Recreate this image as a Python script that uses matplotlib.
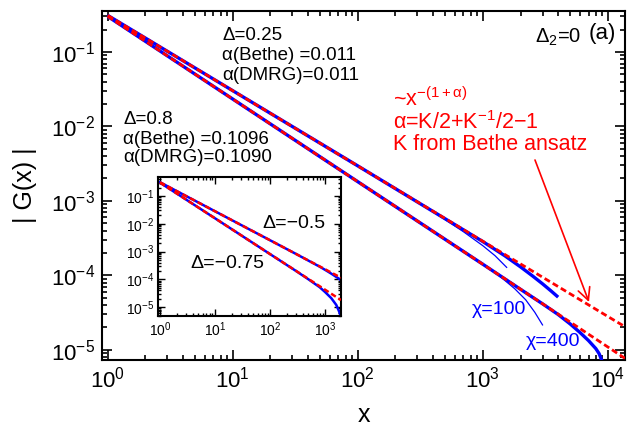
import matplotlib
matplotlib.use("Agg")
import matplotlib.pyplot as plt
from matplotlib.ticker import LogLocator, NullFormatter

plt.rcParams['font.family'] = ['Liberation Sans', 'DejaVu Sans']
plt.rcParams['mathtext.fontset'] = 'custom'
plt.rcParams['mathtext.rm'] = 'Liberation Sans'
plt.rcParams['mathtext.it'] = 'Liberation Sans:italic'
plt.rcParams['mathtext.sf'] = 'Liberation Sans'

# ---------------- data (main panel) ----------------
# Bethe-ansatz power laws (red dashed)
bethe_x = [1, 10, 100, 1000, 10000, 14000]
bethe_y_d025 = [0.31, 0.0302, 2.95e-3, 2.87e-4, 2.80e-5, 2.0e-5]
bethe_y_d080 = [0.30, 0.0233, 1.81e-3, 1.41e-4, 1.09e-5, 7.5e-6]

# DMRG chi=400 (thick blue)
dmrg400_x_d025 = [1, 10, 100, 1000, 1500, 2000, 2500, 3000, 3500, 4000]
dmrg400_y_d025 = [0.31, 0.0302, 2.95e-3, 2.84e-4, 1.83e-4, 1.30e-4, 9.8e-5, 7.7e-5, 6.2e-5, 5.1e-5]
dmrg400_x_d080 = [1, 10, 100, 1000, 2000, 3000, 4000, 5000, 6000, 7000, 8000, 8500, 9000]
dmrg400_y_d080 = [0.30, 0.0233, 1.81e-3, 1.41e-4, 6.5e-5, 4.15e-5, 2.98e-5, 2.22e-5,
                  1.70e-5, 1.33e-5, 1.04e-5, 8.9e-6, 7.0e-6]

# DMRG chi=100 (thin blue)
dmrg100_x_d025 = [1, 10, 100, 300, 500, 700, 1000, 1250, 1550]
dmrg100_y_d025 = [0.31, 0.0302, 2.95e-3, 9.6e-4, 5.6e-4, 3.85e-4, 2.5e-4, 1.84e-4, 1.28e-4]
dmrg100_x_d080 = [1, 10, 100, 1000, 1400, 1800, 2200, 2600, 3000]
dmrg100_y_d080 = [0.30, 0.0233, 1.81e-3, 1.40e-4, 9.4e-5, 6.6e-5, 4.7e-5, 3.2e-5, 2.16e-5]

# ---------------- data (inset) ----------------
ins_bethe_x = [1, 10, 100, 300, 500, 800, 1000, 1300, 1600, 1950]
ins_bethe_y_m050 = [0.31, 0.0281, 2.55e-3, 8.1e-4, 4.74e-4, 2.92e-4, 2.31e-4, 1.75e-4, 1.41e-4, 1.15e-4]
ins_bethe_y_m075 = [0.30, 0.0157, 8.1e-4, 1.99e-4, 1.03e-4, 5.65e-5, 4.24e-5, 3.03e-5, 2.32e-5, 1.8e-5]
ins_dmrg_x = [1, 10, 100, 300, 500, 800, 1000, 1300, 1600, 1800, 1950]
ins_dmrg_y_m050 = [0.31, 0.0281, 2.55e-3, 8.1e-4, 4.7e-4, 2.85e-4, 2.2e-4, 1.6e-4, 1.22e-4, 1.05e-4, 9.2e-5]
ins_dmrg_y_m075 = [0.30, 0.0157, 8.1e-4, 1.97e-4, 1.0e-4, 5.2e-5, 3.5e-5, 2.1e-5, 1.2e-5, 7.0e-6, 4.6e-6]

RED = '#ff0000'
BLUE = '#0000ff'

W, H = 629, 430
fig = plt.figure(figsize=(W / 100, H / 100), dpi=100)

def fx(px):
    return px / W

def fy(py):
    return 1 - py / H

ax = fig.add_axes([fx(102), fy(360), fx(625) - fx(102), fy(11) - fy(360)])
ax.set_xscale('log')
ax.set_yscale('log')
ax.set_xlim(0.9, 13700)
ax.set_ylim(7.3e-6, 0.355)

ax.plot(dmrg100_x_d025, dmrg100_y_d025, color=BLUE, lw=0.9, zorder=2)
ax.plot(dmrg100_x_d080, dmrg100_y_d080, color=BLUE, lw=0.9, zorder=2)
ax.plot(dmrg400_x_d025, dmrg400_y_d025, color=BLUE, lw=2.4, zorder=3, solid_capstyle='butt')
ax.plot(dmrg400_x_d080, dmrg400_y_d080, color=BLUE, lw=2.4, zorder=3, solid_capstyle='butt')
ax.plot(bethe_x, bethe_y_d025, color=RED, lw=2.0, ls=(0, (2.2, 1.2)), zorder=4)
ax.plot(bethe_x, bethe_y_d080, color=RED, lw=2.0, ls=(0, (2.2, 1.2)), zorder=4)

for s in ax.spines.values():
    s.set_linewidth(1.5)
ax.tick_params(which='both', direction='in', top=True, right=True, width=1.2)
ax.tick_params(which='major', length=7, labelsize=16, pad=5)
ax.tick_params(which='minor', length=3.5)
ax.xaxis.set_major_locator(LogLocator(base=10, numticks=20))
ax.xaxis.set_minor_locator(LogLocator(base=10, subs=range(2, 10), numticks=50))
ax.yaxis.set_major_locator(LogLocator(base=10, numticks=20))
ax.yaxis.set_minor_locator(LogLocator(base=10, subs=range(2, 10), numticks=50))
ax.xaxis.set_minor_formatter(NullFormatter())
ax.yaxis.set_minor_formatter(NullFormatter())
ax.set_xlabel('x', fontsize=18, labelpad=7)
ax.set_ylabel('| G(x) |', fontsize=18, labelpad=10)

# annotations (main)
fs = 13.5
fig.text(fx(222), fy(35), 'Δ=0.25', fontsize=fs, va='center')
fig.text(fx(222), fy(55), 'α(Bethe) =0.011', fontsize=fs, va='center')
fig.text(fx(222), fy(75), 'α(DMRG)=0.011', fontsize=fs, va='center')
fig.text(fx(123), fy(119), 'Δ=0.8', fontsize=fs, va='center')
fig.text(fx(123), fy(139), 'α(Bethe) =0.1096', fontsize=fs, va='center')
fig.text(fx(123), fy(158), 'α(DMRG)=0.1090', fontsize=fs, va='center')
fig.text(fx(535), fy(37), 'Δ$_\\mathregular{2}$=0', fontsize=14.5, va='center')
fig.text(fx(589), fy(34), '(a)', fontsize=16, va='center')

rfs = 15.5
fig.text(fx(393), fy(99), '~x$^{\\mathregular{-(1+α)}}$', fontsize=rfs, va='center', color=RED)
fig.text(fx(393), fy(123), 'α=K/2+K$^{\\mathregular{-1}}$/2−1', fontsize=rfs, va='center', color=RED)
fig.text(fx(393), fy(145), 'K from Bethe ansatz', fontsize=rfs, va='center', color=RED)
ax.annotate('', xy=(fx(589), fy(302)), xycoords='figure fraction',
            xytext=(fx(535), fy(160)), textcoords='figure fraction',
            arrowprops=dict(arrowstyle='->', color=RED, lw=1.2, mutation_scale=22,
                            shrinkA=0, shrinkB=0))

fig.text(fx(499), fy(310), 'χ=100', fontsize=14, va='center', ha='center', color=BLUE)
fig.text(fx(553), fy(341), 'χ=400', fontsize=14, va='center', ha='center', color=BLUE)

# ---------------- inset ----------------
axi = fig.add_axes([fx(158), fy(316), fx(341) - fx(158), fy(177) - fy(316)])
axi.set_xscale('log')
axi.set_yscale('log')
axi.set_xlim(0.92, 1950)
axi.set_ylim(4.8e-6, 0.48)
axi.plot(ins_dmrg_x, ins_dmrg_y_m050, color=BLUE, lw=1.8, zorder=2)
axi.plot(ins_dmrg_x, ins_dmrg_y_m075, color=BLUE, lw=1.8, zorder=2)
axi.plot(ins_bethe_x, ins_bethe_y_m050, color=RED, lw=1.8, ls=(0, (2.2, 1.2)), zorder=3)
axi.plot(ins_bethe_x, ins_bethe_y_m075, color=RED, lw=1.8, ls=(0, (2.2, 1.2)), zorder=3)
for s in axi.spines.values():
    s.set_linewidth(1.5)
axi.tick_params(which='both', direction='in', top=True, right=True, width=1.0)
axi.tick_params(which='major', length=5, labelsize=10, pad=3)
axi.tick_params(which='minor', length=2.5)
axi.xaxis.set_major_locator(LogLocator(base=10, numticks=20))
axi.xaxis.set_minor_locator(LogLocator(base=10, subs=range(2, 10), numticks=50))
axi.yaxis.set_major_locator(LogLocator(base=10, numticks=20))
axi.yaxis.set_minor_locator(LogLocator(base=10, subs=range(2, 10), numticks=50))
axi.xaxis.set_minor_formatter(NullFormatter())
axi.yaxis.set_minor_formatter(NullFormatter())
fig.text(fx(262), fy(223), 'Δ=−0.5', fontsize=14, va='center')
fig.text(fx(190), fy(263), 'Δ=−0.75', fontsize=14, va='center')

fig.savefig('out.png', dpi=100)
